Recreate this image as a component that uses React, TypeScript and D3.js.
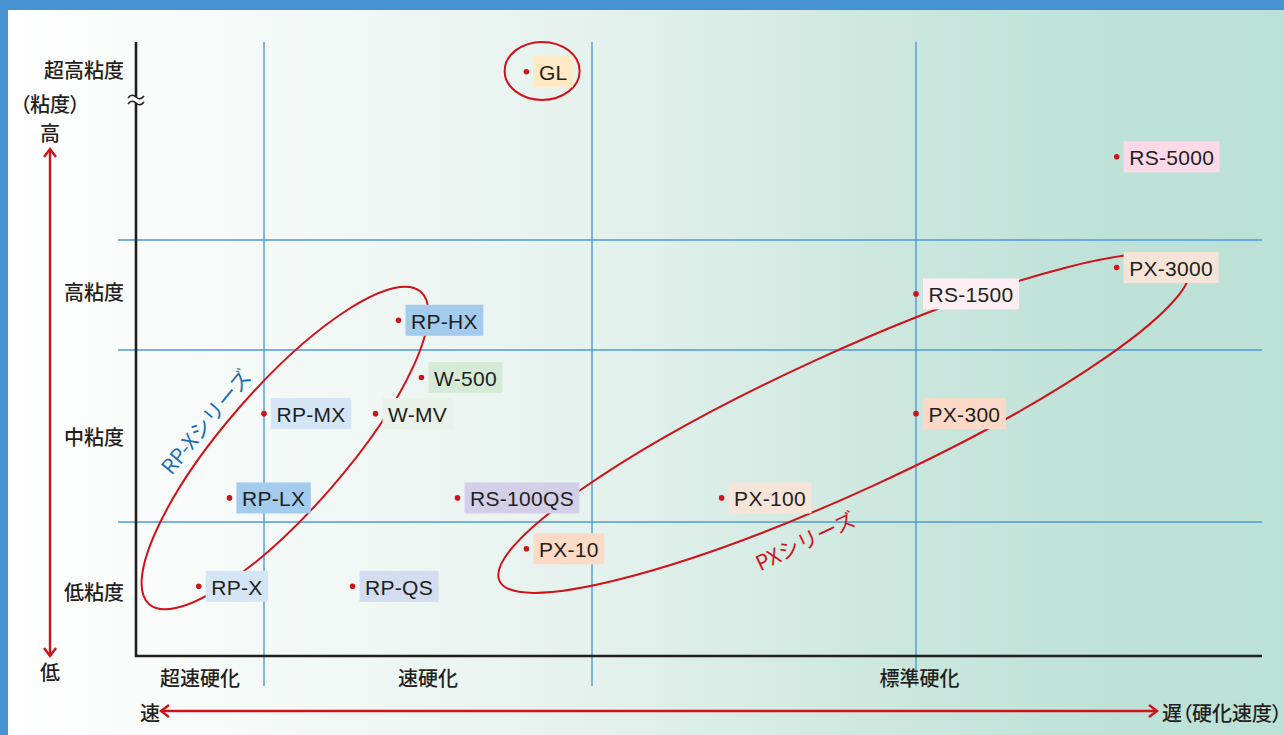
import { useEffect, useRef } from "react";
import * as d3 from "d3";

// speed bands (x) and viscosity bands (y), in band units
const speedBands = [ "超速硬化", "速硬化", "標準硬化" ];
const speedBandCenters = [ 0.5, 1.5, 3.01 ];
const viscosityBands = [ "低粘度", "中粘度", "高粘度", "超高粘度" ];
const viscosityBandCenters = [ 0.48, 1.5, 2.53, 3.86 ];

// products: name, hardening speed, viscosity
const products = [ "GL", "RS-5000", "PX-3000", "RS-1500", "RP-HX", "W-500", "RP-MX", "W-MV", "PX-300", "RP-LX", "RS-100QS", "PX-100", "PX-10", "RP-X", "RP-QS" ];
const speedValues = [ 1.80, 3.58, 3.58, 3.0, 1.41, 1.48, 1.0, 1.34, 3.0, 0.73, 1.59, 2.40, 1.80, 0.49, 1.27 ];
const viscosityValues = [ 3.85, 3.42, 2.75, 2.51, 2.27, 1.84, 1.63, 1.63, 1.63, 1.14, 1.14, 1.14, 0.80, 0.52, 0.52 ];

// series groupings drawn as ellipses: centre (speed, viscosity)
const seriesNames = [ "RP-Xシリーズ", "PXシリーズ", "" ];
const seriesSpeed = [ 1.064, 2.778, 1.848 ];
const seriesViscosity = [ 1.43, 1.575, 3.854 ];

const LABEL_BG: Record<string, string> = {
    "GL": "#fde9c3", "RS-5000": "#fbd9e7", "PX-3000": "#f5e5d9", "RS-1500": "#fdeef3",
    "RP-HX": "#a2cbee", "W-500": "#d6ead8", "RP-MX": "#d4e6f6", "W-MV": "#e8f2e8",
    "PX-300": "#fbd9c6", "RP-LX": "#a2cbee", "RS-100QS": "#d3cfe8", "PX-100": "#f6e4d9",
    "PX-10": "#fbdac6", "RP-X": "#d4e6f6", "RP-QS": "#d4dcef",
};

const RED = "#d0121b";
const GRID = "#4f9ad6";
const INK = "#231f20";
const JP = "'Noto Sans CJK JP', 'Noto Sans', sans-serif";
const LATIN = "'Liberation Sans', Arial, sans-serif";

export default function App ()
{
    const svgRef = useRef<SVGSVGElement>( null );

    useEffect( () =>
    {
        document.body.style.margin = "0";
        if ( !svgRef.current ) return;
        const svg = d3.select( svgRef.current );
        svg.selectAll( "*" ).remove();

        const W = 1284, H = 735;
        const x = d3.scaleLinear().domain( [ 0, 1, 2, 3, 4 ] ).range( [ 136, 264, 592, 916, 1262 ] );
        const y = d3.scaleLinear().domain( [ 0, 1, 2, 3, 4 ] ).range( [ 656, 522, 350, 240, 42 ] );

        // background
        const defs = svg.append( "defs" );
        const grad = defs.append( "linearGradient" ).attr( "id", "bg" ).attr( "x1", 0 ).attr( "x2", 1 ).attr( "y1", 0 ).attr( "y2", 0 );
        [ [ 0, "#ffffff" ], [ 0.15, "#f8fbfa" ], [ 0.45, "#e6f2ee" ], [ 0.7, "#cbe7de" ], [ 0.86, "#bfe2d8" ], [ 1, "#bce1d6" ] ]
            .forEach( ( [ o, c ] ) => grad.append( "stop" ).attr( "offset", o as number ).attr( "stop-color", c as string ) );
        svg.append( "rect" ).attr( "width", W ).attr( "height", H ).attr( "fill", "url(#bg)" );
        svg.append( "rect" ).attr( "width", W ).attr( "height", 10 ).attr( "fill", "#4492d2" );
        svg.append( "rect" ).attr( "width", 8 ).attr( "height", H ).attr( "fill", "#4492d2" );

        // grid
        const g = svg.append( "g" );
        g.selectAll( ".vgrid" ).data( [ 1, 2, 3 ] ).join( "line" )
            .attr( "x1", ( d ) => x( d ) ).attr( "x2", ( d ) => x( d ) ).attr( "y1", y( 4 ) ).attr( "y2", 686 )
            .attr( "stroke", GRID ).attr( "stroke-width", 1.4 );
        g.selectAll( ".hgrid" ).data( [ 1, 2, 3 ] ).join( "line" )
            .attr( "x1", 118 ).attr( "x2", x( 4 ) ).attr( "y1", ( d ) => y( d ) ).attr( "y2", ( d ) => y( d ) )
            .attr( "stroke", GRID ).attr( "stroke-width", 1.4 );

        // axes
        g.append( "path" ).attr( "d", `M${ x( 0 ) },${ y( 4 ) }V${ y( 0 ) }H${ x( 4 ) }` )
            .attr( "fill", "none" ).attr( "stroke", INK ).attr( "stroke-width", 2.6 );
        // axis break
        const by = 100;
        g.append( "rect" ).attr( "x", x( 0 ) - 3 ).attr( "y", by - 3 ).attr( "width", 6 ).attr( "height", 6 ).attr( "fill", "#fdfefe" );
        [ by - 3, by + 3 ].forEach( ( yy ) =>
        {
            g.append( "path" )
                .attr( "d", `M${ x( 0 ) - 8 },${ yy + 1 } C${ x( 0 ) - 5 },${ yy - 3 } ${ x( 0 ) - 2 },${ yy - 2 } ${ x( 0 ) },${ yy } S${ x( 0 ) + 5 },${ yy + 3 } ${ x( 0 ) + 8 },${ yy - 1 }` )
                .attr( "fill", "none" ).attr( "stroke", INK ).attr( "stroke-width", 1.6 );
        } );

        // band labels
        g.selectAll( ".ylab" ).data( viscosityBands ).join( "text" )
            .attr( "x", 124 ).attr( "y", ( _, i ) => y( viscosityBandCenters[ i ] ) )
            .attr( "text-anchor", "end" ).attr( "dominant-baseline", "central" )
            .attr( "fill", INK ).style( "font-size", "20px" ).style( "font-family", JP ).style( "font-weight", 500 )
            .text( ( d ) => d );
        g.selectAll( ".xlab" ).data( speedBands ).join( "text" )
            .attr( "x", ( _, i ) => x( speedBandCenters[ i ] ) ).attr( "y", 677 )
            .attr( "text-anchor", "middle" ).attr( "dominant-baseline", "central" )
            .attr( "fill", INK ).style( "font-size", "20px" ).style( "font-family", JP ).style( "font-weight", 500 )
            .text( ( d ) => d );

        // direction arrows
        const arrows = svg.append( "g" ).attr( "fill", "none" ).attr( "stroke", RED ).attr( "stroke-width", 2.4 );
        arrows.append( "path" ).attr( "d", "M50,150V655" );
        arrows.append( "path" ).attr( "d", "M44,157L50,149L56,157" );
        arrows.append( "path" ).attr( "d", "M44,648L50,656L56,648" );
        arrows.append( "path" ).attr( "d", "M162,711H1156" );
        arrows.append( "path" ).attr( "d", "M169,705L161,711L169,717" );
        arrows.append( "path" ).attr( "d", "M1149,705L1157,711L1149,717" );

        const side = svg.append( "g" ).attr( "fill", INK ).style( "font-size", "20px" ).style( "font-family", JP ).style( "font-weight", 500 )
            .style( "font-feature-settings", "'palt'" ).attr( "dominant-baseline", "central" );
        side.append( "text" ).attr( "x", 50 ).attr( "y", 103 ).attr( "text-anchor", "middle" ).text( "（粘度）" );
        side.append( "text" ).attr( "x", 50 ).attr( "y", 132 ).attr( "text-anchor", "middle" ).text( "高" );
        side.append( "text" ).attr( "x", 50 ).attr( "y", 671 ).attr( "text-anchor", "middle" ).text( "低" );
        side.append( "text" ).attr( "x", 150 ).attr( "y", 712 ).attr( "text-anchor", "middle" ).text( "速" );
        side.append( "text" ).attr( "x", 1162 ).attr( "y", 712 ).attr( "text-anchor", "start" ).text( "遅（硬化速度）" );

        // series ellipses (drawn under the label boxes)
        const ell = [ { rx: 207, ry: 61, rot: -49 }, { rx: 379, ry: 69, rot: -24.6 }, { rx: 37.5, ry: 29, rot: 0 } ];
        const ellG = svg.append( "g" );
        ellG.selectAll( "ellipse" ).data( seriesSpeed ).join( "ellipse" )
            .attr( "transform", ( d, i ) => `translate(${ x( d ) },${ y( seriesViscosity[ i ] ) }) rotate(${ ell[ i ].rot })` )
            .attr( "rx", ( _, i ) => ell[ i ].rx ).attr( "ry", ( _, i ) => ell[ i ].ry )
            .attr( "fill", "none" ).attr( "stroke", RED ).attr( "stroke-width", 2 );

        // product points
        const pts = svg.append( "g" );
        products.forEach( ( name, i ) =>
        {
            const px = x( speedValues[ i ] ), py = y( viscosityValues[ i ] );
            pts.append( "circle" ).attr( "cx", px ).attr( "cy", py ).attr( "r", 2.8 ).attr( "fill", RED );
            const box = pts.append( "rect" ).attr( "x", px + 7 ).attr( "y", py - 15.5 ).attr( "height", 31 ).attr( "fill", LABEL_BG[ name ] );
            const t = pts.append( "text" ).attr( "x", px + 12.5 ).attr( "y", py + 1 )
                .attr( "dominant-baseline", "central" ).attr( "fill", INK )
                .style( "font-size", "21px" ).style( "font-family", LATIN ).style( "letter-spacing", "0.3px" )
                .text( name );
            const tw = ( t.node() as SVGTextElement ).getComputedTextLength();
            box.attr( "width", tw + 11 );
        } );

        // series captions
        const caps = [ { cx: 205, cy: 421, rot: -50.5, color: "#1a6db5" }, { cx: 805, cy: 540, rot: -25.6, color: RED } ];
        caps.forEach( ( c, i ) =>
        {
            svg.append( "text" ).attr( "transform", `translate(${ c.cx },${ c.cy }) rotate(${ c.rot })` )
                .attr( "text-anchor", "middle" ).attr( "dominant-baseline", "central" )
                .attr( "fill", c.color ).style( "font-size", "21px" ).style( "font-family", JP )
                .text( seriesNames[ i ] );
        } );
    }, [] );

    return <svg ref={ svgRef } width={ 1284 } height={ 735 } style={ { display: "block" } } />;
}
